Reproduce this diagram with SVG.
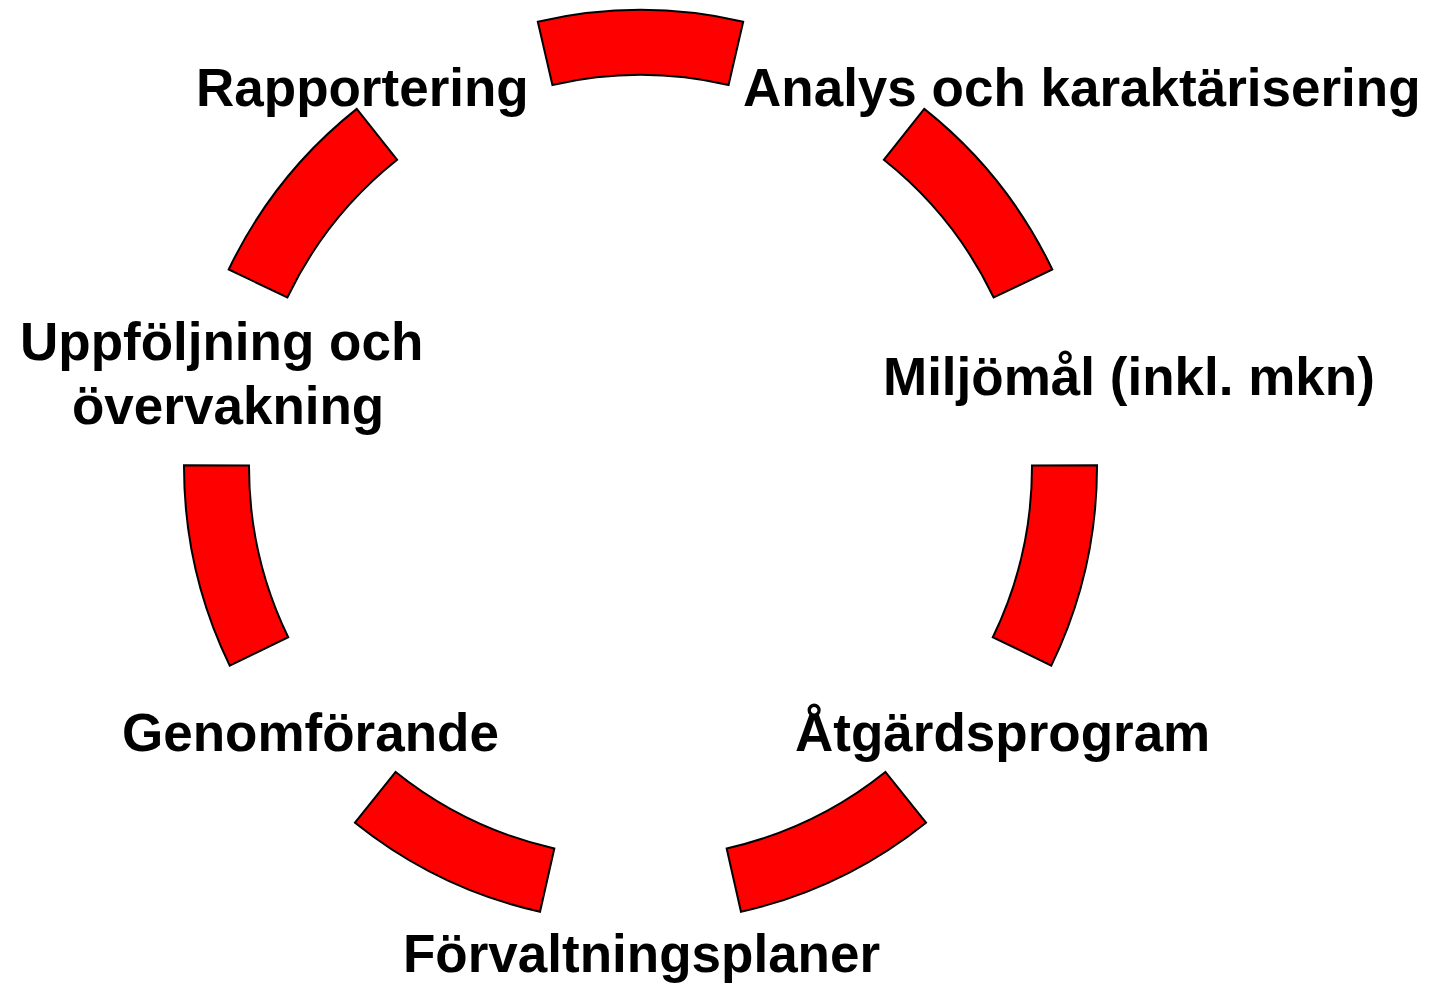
<svg xmlns="http://www.w3.org/2000/svg" xmlns:xlink="http://www.w3.org/1999/xlink" width="1437" height="985" viewBox="0 0 1437 985">
  <style>
    .seg { fill: #FF0000; stroke: #000000; stroke-width: 2; stroke-linejoin: miter; }
    .lbl { font-family: "Liberation Sans", Arial, sans-serif; font-weight: bold; font-size: 53px; fill: #000000; }
  </style>
  <defs>
    <path id="arcseg" class="seg" d="M 537.81 21.70 A 456.5 456.5 0 0 1 743.19 21.70 L 728.57 85.03 A 391.5 391.5 0 0 0 552.43 85.03 Z"/>
  </defs>
  <rect width="1437" height="985" fill="#FFFFFF"/>
  <g id="connectors">
    <use xlink:href="#arcseg" href="#arcseg"/>
    <use xlink:href="#arcseg" href="#arcseg" transform="rotate(51.4286 640.5 466.5)"/>
    <use xlink:href="#arcseg" href="#arcseg" transform="rotate(102.8571 640.5 466.5)"/>
    <use xlink:href="#arcseg" href="#arcseg" transform="rotate(154.2857 640.5 466.5)"/>
    <use xlink:href="#arcseg" href="#arcseg" transform="rotate(205.7143 640.5 466.5)"/>
    <use xlink:href="#arcseg" href="#arcseg" transform="rotate(257.1429 640.5 466.5)"/>
    <use xlink:href="#arcseg" href="#arcseg" transform="rotate(308.5714 640.5 466.5)"/>
  </g>
  <g id="node-rapportering"><text class="lbl" x="196" y="106">Rapportering</text></g>
  <g id="node-analys"><text class="lbl" x="743" y="106">Analys och karaktärisering</text></g>
  <g id="node-miljomal"><text class="lbl" x="883" y="395">Miljömål (inkl. mkn)</text></g>
  <g id="node-atgardsprogram"><text class="lbl" x="795" y="751">Åtgärdsprogram</text></g>
  <g id="node-forvaltningsplaner"><text class="lbl" x="403" y="972">Förvaltningsplaner</text></g>
  <g id="node-genomforande"><text class="lbl" x="122" y="751">Genomförande</text></g>
  <g id="node-uppfoljning">
    <text class="lbl" x="20" y="360">Uppföljning och</text>
    <text class="lbl" x="72" y="424">övervakning</text>
  </g>
</svg>
